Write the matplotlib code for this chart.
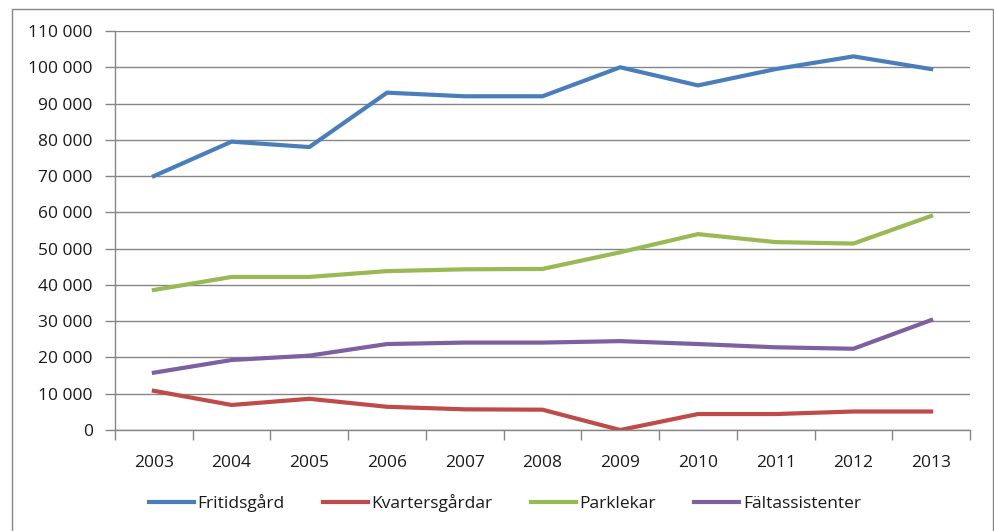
import matplotlib
matplotlib.use("Agg")
import matplotlib.pyplot as plt
from matplotlib.patches import Rectangle
from matplotlib.ticker import FuncFormatter, FixedLocator

plt.rcParams['font.family'] = ['Open Sans', 'DejaVu Sans']

years = ['2003', '2004', '2005', '2006', '2007', '2008', '2009', '2010', '2011', '2012', '2013']
fritidsgard = [70000, 79500, 78000, 93000, 92000, 92000, 100000, 95000, 99500, 103000, 99500]
kvartersgardar = [10800, 6900, 8600, 6400, 5700, 5600, 0, 4400, 4400, 5100, 5100]
parklekar = [38600, 42200, 42200, 43800, 44300, 44400, 49000, 54000, 51800, 51400, 59000]
faltassistenter = [15800, 19300, 20500, 23700, 24100, 24100, 24500, 23700, 22800, 22400, 30300]

series = [
    ('Fritidsgård', fritidsgard, '#4A7EBB'),
    ('Kvartersgårdar', kvartersgardar, '#BE4B48'),
    ('Parklekar', parklekar, '#98B954'),
    ('Fältassistenter', faltassistenter, '#7D60A0'),
]

fig = plt.figure(figsize=(9.95, 5.31), dpi=100)
ax = fig.add_axes([115 / 995, 1 - 430 / 531, 855 / 995, 399 / 531])

x = list(range(len(years)))
for name, vals, col in series:
    ax.plot(x, vals, color=col, lw=3, label=name, solid_joinstyle='round')

grid_col = '#868686'
txt_col = '#1a1a1a'
ax.set_xlim(-0.5, len(years) - 0.5)
ax.set_ylim(0, 110000)
ax.set_yticks(range(0, 110001, 10000))
ax.yaxis.set_major_formatter(FuncFormatter(lambda v, p: f"{int(v):,}".replace(',', ' ')))
ax.grid(axis='y', color=grid_col, lw=1)
ax.set_axisbelow(True)

ax.set_xticks(x)
ax.set_xticklabels(years)
ax.xaxis.set_minor_locator(FixedLocator([i - 0.5 for i in range(len(years) + 1)]))
ax.tick_params(axis='x', which='major', length=0, pad=18, labelsize=12.5, colors=txt_col)
ax.tick_params(axis='x', which='minor', length=7, color=grid_col, width=1)
ax.tick_params(axis='y', length=7, color=grid_col, width=1, labelsize=12.5, labelcolor=txt_col, pad=9)

for s in ['top', 'right']:
    ax.spines[s].set_visible(False)
for s in ['left', 'bottom']:
    ax.spines[s].set_color(grid_col)
    ax.spines[s].set_linewidth(1)

leg = fig.legend(loc='center', bbox_to_anchor=(505 / 995, 1 - 503 / 531), ncol=4, frameon=False,
                 fontsize=12.5, handlelength=2.6, handletextpad=0.2, columnspacing=2.2)
for t in leg.get_texts():
    t.set_color(txt_col)

fig.patches.append(Rectangle((12 / 995, -0.05), 981 / 995, 1.05 - 9 / 531, transform=fig.transFigure,
                             fill=False, edgecolor='#868686', lw=1))

fig.savefig('out.png', dpi=100)
